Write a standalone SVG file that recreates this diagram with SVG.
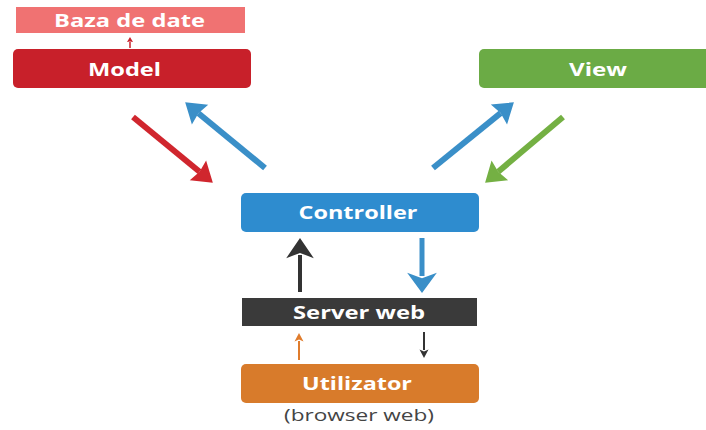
<svg xmlns="http://www.w3.org/2000/svg" width="706" height="430" viewBox="0 0 706 430">
<style>
.lbl{font-family:"Open Sans","Liberation Sans",sans-serif;font-weight:bold;font-size:17px;fill:#ffffff;text-anchor:middle;dominant-baseline:central}
.sub{font-family:"Open Sans","Liberation Sans",sans-serif;font-size:16px;fill:#444444;text-anchor:middle}
</style>
<defs>
<marker id="hRed" markerUnits="userSpaceOnUse" markerWidth="30" markerHeight="30" refX="0" refY="0" viewBox="-2 -14 24 28" orient="auto"><path d="M16,0 L-2,-12 L0,0 L-2,12 Z" fill="#d0262e"/></marker>
<marker id="hBlue" markerUnits="userSpaceOnUse" markerWidth="30" markerHeight="30" refX="0" refY="0" viewBox="-2 -14 24 28" orient="auto"><path d="M16,0 L-2,-12 L0,0 L-2,12 Z" fill="#3a8fc8"/></marker>
<marker id="hGreen" markerUnits="userSpaceOnUse" markerWidth="30" markerHeight="30" refX="0" refY="0" viewBox="-2 -14 24 28" orient="auto"><path d="M16,0 L-2,-12 L0,0 L-2,12 Z" fill="#74b043"/></marker>
<marker id="vDark" markerUnits="userSpaceOnUse" markerWidth="34" markerHeight="34" refX="0" refY="0" viewBox="-4 -16 22 32" orient="auto"><path d="M16,0 L-3,-13 L2,0 L-3,13 Z" fill="#333333"/></marker>
<marker id="vBlue" markerUnits="userSpaceOnUse" markerWidth="34" markerHeight="34" refX="0" refY="0" viewBox="-4 -16 22 32" orient="auto"><path d="M16,0 L-3,-14 L2,0 L-3,14 Z" fill="#3a8fc8"/></marker>
<marker id="sOrange" markerUnits="userSpaceOnUse" markerWidth="12" markerHeight="12" refX="0" refY="0" viewBox="-1 -6 10 12" orient="auto"><path d="M8,0 L-0.5,-4.5 L1.5,0 L-0.5,4.5 Z" fill="#e07c2c"/></marker>
<marker id="sDark" markerUnits="userSpaceOnUse" markerWidth="12" markerHeight="12" refX="0" refY="0" viewBox="-1 -6 10 12" orient="auto"><path d="M8,0 L-0.5,-4.5 L1.5,0 L-0.5,4.5 Z" fill="#333333"/></marker>
<marker id="sRed" markerUnits="userSpaceOnUse" markerWidth="8" markerHeight="8" refX="0" refY="0" viewBox="-1 -4 7 8" orient="auto"><path d="M5,0 L0,-3 L0.5,0 L0,3 Z" fill="#c8202a"/></marker>
</defs>
<rect width="706" height="430" fill="#ffffff"/>
<g id="baza"><rect x="16" y="7" width="229" height="26" fill="#f07272"/><text class="lbl" x="129.5" y="20" textLength="151" lengthAdjust="spacingAndGlyphs">Baza de date</text></g>
<g id="model"><rect x="13" y="49" width="238" height="39" rx="5" fill="#c8202a"/><text class="lbl" x="124.5" y="69.5" textLength="73" lengthAdjust="spacingAndGlyphs">Model</text></g>
<g id="view"><rect x="479" y="49" width="240" height="39" rx="5" fill="#6bab45"/><text class="lbl" x="598" y="69.5" textLength="58" lengthAdjust="spacingAndGlyphs">View</text></g>
<g id="controller"><rect x="241" y="193" width="238" height="39" rx="5" fill="#2e8ccf"/><text class="lbl" x="358" y="212.5" textLength="119" lengthAdjust="spacingAndGlyphs">Controller</text></g>
<g id="server"><rect x="242" y="298" width="235" height="28" fill="#3a3a3a"/><text class="lbl" x="359" y="312" textLength="132" lengthAdjust="spacingAndGlyphs">Server web</text></g>
<g id="utilizator"><rect x="241" y="364" width="238" height="39" rx="5" fill="#d87b2b"/><text class="lbl" x="357" y="383.5" textLength="110" lengthAdjust="spacingAndGlyphs">Utilizator</text><text class="sub" x="359" y="421" textLength="150" lengthAdjust="spacingAndGlyphs">(browser web)</text></g>
<g id="connectors" fill="none">
<line x1="130" y1="48" x2="130" y2="42" stroke="#c8202a" stroke-width="1.5" marker-end="url(#sRed)"/>
<line x1="133" y1="117" x2="199.6" y2="171.8" stroke="#d0262e" stroke-width="6" marker-end="url(#hRed)"/>
<line x1="265" y1="168" x2="198.4" y2="113.2" stroke="#3a8fc8" stroke-width="6" marker-end="url(#hBlue)"/>
<line x1="433" y1="168" x2="500.6" y2="113.1" stroke="#3a8fc8" stroke-width="6" marker-end="url(#hBlue)"/>
<line x1="563" y1="117" x2="498.2" y2="171.7" stroke="#74b043" stroke-width="6" marker-end="url(#hGreen)"/>
<line x1="300" y1="292" x2="300" y2="255" stroke="#333333" stroke-width="4" marker-end="url(#vDark)"/>
<line x1="422" y1="238" x2="422" y2="276" stroke="#3a8fc8" stroke-width="5" marker-end="url(#vBlue)"/>
<line x1="299" y1="360" x2="299" y2="341" stroke="#e07c2c" stroke-width="2" marker-end="url(#sOrange)"/>
<line x1="424" y1="332" x2="424" y2="350" stroke="#333333" stroke-width="2" marker-end="url(#sDark)"/>
</g>
</svg>
